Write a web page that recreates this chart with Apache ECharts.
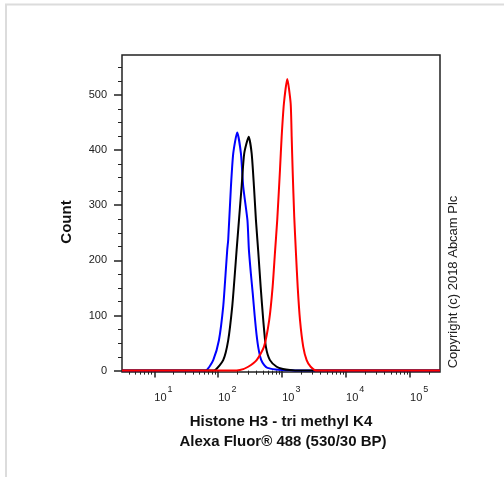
<!DOCTYPE html>
<html><head><meta charset="utf-8">
<script src="https://cdn.jsdelivr.net/npm/echarts@6/dist/echarts.min.js"></script>
<style>html,body{margin:0;padding:0;background:#fff}#c{width:504px;height:477px}</style>
</head><body><div id="c"></div>
<script>
// x values are log10 of fluorescence intensity
const xDecades = [1, 2, 3, 4, 5];
const yTicks = [0, 100, 200, 300, 400, 500];
const yMinorTicks = [25, 50, 75, 125, 150, 175, 225, 250, 275, 325, 350, 375, 425, 450, 475, 525, 550];
const xMin = 0.495, xMax = 5.469;
const yMin = -2.5, yMax = 572.5;

const blueLog   = [0.495, 1.714, 1.818, 1.922, 2.011, 2.078, 2.116, 2.141, 2.156, 2.199, 2.235, 2.297, 2.355, 2.391, 2.457, 2.480, 2.510, 2.540, 2.570, 2.600, 2.630, 2.670, 2.720, 2.770, 2.900, 3.000, 3.150, 3.300, 5.469];
const blueCount = [0,     0,     1,     19,    55,    116,   177,   219,   237,   334,   394,   432,   394,   334,   273,   219,   177,   140,   100,   65,    40,    20,    10,    5,     2,     1,     0.5,   0,     0];

const blackLog   = [0.495, 1.839, 1.948, 2.078, 2.156, 2.219, 2.261, 2.288, 2.366, 2.407, 2.477, 2.523, 2.559, 2.590, 2.626, 2.664, 2.704, 2.746, 2.809, 2.914, 3.012, 3.122, 3.279, 5.469];
const blackCount = [0,     0,     1,     19,    55,    116,   177,   219,   334,   394,   424,   394,   334,   273,   216,   152,   92,    43,    19,    7,     3,     1,     0,     0];

const redLog   = [0.495, 2.214, 2.340, 2.469, 2.601, 2.715, 2.798, 2.851, 2.887, 2.923, 2.966, 2.992, 3.028, 3.080, 3.133, 3.149, 3.164, 3.189, 3.216, 3.243, 3.279, 3.330, 3.383, 3.446, 3.540, 5.469];
const redCount = [0,     0,     1,     7,     19,    43,    92,    152,   213,   273,   364,   424,   485,   529,   485,   424,   364,   279,   213,   152,   92,    43,    19,    7,     0,     0];

const xTitle1 = 'Histone H3 - tri methyl K4';
const xTitle2 = 'Alexa Fluor\u00AE 488 (530/30 BP)';
const yTitle = 'Count';
const copyright = 'Copyright (c) 2018 Abcam Plc';

const minorX = [];
for (let n = 0; n <= 5; n++) for (let k = 2; k <= 9; k++) {
  const v = n + Math.log10(k);
  if (v > xMin && v < xMax) minorX.push(v);
}
const zip = (a, b) => a.map((v, i) => [v, b[i]]);
const FONT = 'Arial, "Liberation Sans", sans-serif';

const chart = echarts.init(document.getElementById('c'), null, {renderer: 'canvas'});
const lineSeries = (name, x, y, color) => ({
  name, type: 'line', data: zip(x, y), showSymbol: false, smooth: 0.2,
  lineStyle: {color, width: 2}, xAxisIndex: 0, yAxisIndex: 0, z: 3, clip: true
});
chart.setOption({
  animation: false,
  backgroundColor: '#fff',
  grid: {left: 122, right: 64, top: 55, bottom: 105, show: true, borderColor: '#222', borderWidth: 1.5, containLabel: false},
  xAxis: [
    {type: 'value', position: 'bottom', offset: 0, min: xMin, max: xMax, splitLine: {show: false},
     axisLine: {show: false},
     axisTick: {show: true, inside: false, length: 7, lineStyle: {color: '#222', width: 1.5}, customValues: xDecades},
     axisLabel: {show: true, customValues: xDecades, margin: 13, align: 'left',
       formatter: v => '{b|10}{s|' + Math.round(v) + '}',
       rich: {b: {fontSize: 11, fontFamily: FONT, color: '#222', lineHeight: 18, verticalAlign: 'bottom'},
              s: {fontSize: 9, fontFamily: FONT, color: '#222', lineHeight: 18, verticalAlign: 'top', padding: [0, 0, 0, 1]}}}},
    {type: 'value', position: 'bottom', offset: 0, min: xMin, max: xMax, splitLine: {show: false}, axisLine: {show: false},
     axisTick: {show: true, inside: false, length: 4, lineStyle: {color: '#222', width: 1}, customValues: minorX},
     axisLabel: {show: false}}
  ],
  yAxis: [
    {type: 'value', position: 'left', offset: 0, min: yMin, max: yMax, splitLine: {show: false}, axisLine: {show: false},
     axisTick: {show: true, inside: false, length: 8, lineStyle: {color: '#222', width: 1.5}, customValues: yTicks},
     axisLabel: {show: true, customValues: yTicks, margin: 15, fontSize: 11, fontFamily: FONT, color: '#222'}},
    {type: 'value', position: 'left', offset: 0, min: yMin, max: yMax, splitLine: {show: false}, axisLine: {show: false},
     axisTick: {show: true, inside: false, length: 4, lineStyle: {color: '#222', width: 1}, customValues: yMinorTicks},
     axisLabel: {show: false}}
  ],
  series: [
    lineSeries('blue', blueLog, blueCount, '#0000ff'),
    lineSeries('black', blackLog, blackCount, '#000000'),
    lineSeries('red', redLog, redCount, '#ff0000')
  ],
  graphic: [
    {type: 'polyline', shape: {points: [[6, 477], [6, 4.5], [504, 4.5]]}, style: {stroke: '#dcdcdc', lineWidth: 2, fill: null}, silent: true},
    {type: 'text', x: 67, y: 222, rotation: Math.PI / 2,
     style: {text: yTitle, font: 'bold 15px ' + FONT, fill: '#111', textAlign: 'center', textVerticalAlign: 'middle'}},
    {type: 'text', x: 281, y: 422,
     style: {text: xTitle1, font: 'bold 15px ' + FONT, fill: '#111', textAlign: 'center', textVerticalAlign: 'middle'}},
    {type: 'text', x: 283, y: 442,
     style: {text: xTitle2, font: 'bold 15px ' + FONT, fill: '#111', textAlign: 'center', textVerticalAlign: 'middle'}},
    {type: 'text', x: 453, y: 282, rotation: Math.PI / 2,
     style: {text: copyright, font: '13px ' + FONT, fill: '#222', textAlign: 'center', textVerticalAlign: 'middle'}}
  ]
});
</script></body></html>
